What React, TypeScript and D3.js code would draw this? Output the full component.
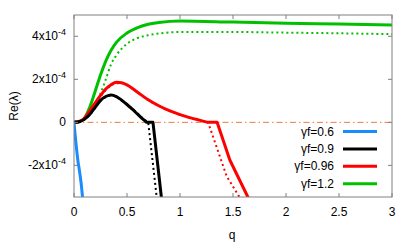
import {useEffect, useRef} from "react";
import * as d3 from "d3";

const SvgWidth = 415;
const SvgHeight = 249;

// plot box (gnuplot-like frame)
const left = 74;
const right = 392;
const top = 15;
const bottom = 197;

const xTicks = [0, 0.5, 1, 1.5, 2, 2.5, 3];
const yTicks = [-2e-4, 0, 2e-4, 4e-4];
const yTickLabels = [["-2x10", "-4"], ["0", ""], ["2x10", "-4"], ["4x10", "-4"]];

// values in units of 1e-4; smooth part, then the straight drop (tail)
const blueQ = [0, 0.01, 0.02, 0.03, 0.04, 0.05, 0.06, 0.07, 0.08, 0.09];
const blueV = [0, -0.55, -1.05, -1.5, -1.9, -2.2, -2.55, -2.95, -3.45, -3.9];

const blackQ = [0, 0.05, 0.1, 0.15, 0.2, 0.25, 0.3, 0.35, 0.4, 0.45, 0.5, 0.55, 0.6, 0.65, 0.685];
const blackV = [0, 0.03, 0.15, 0.38, 0.7, 1.02, 1.2, 1.27, 1.2, 1.03, 0.83, 0.61, 0.38, 0.15, 0];
const blackTailQ = [0.685, 0.745, 0.824, 0.84];
const blackTailV = [0, 0, -3.47, -4.2];
const blackDotQ = [0, 0.05, 0.1, 0.15, 0.2, 0.25, 0.3, 0.35, 0.4, 0.45, 0.5, 0.55, 0.6, 0.65, 0.7];
const blackDotV = [0, 0.03, 0.14, 0.36, 0.68, 1.0, 1.18, 1.25, 1.19, 1.03, 0.84, 0.63, 0.41, 0.18, 0];
const blackDotTailQ = [0.7, 0.78, 0.8];
const blackDotTailV = [0, -3.47, -4.3];

const redQ = [0, 0.05, 0.1, 0.15, 0.2, 0.25, 0.3, 0.35, 0.4, 0.45, 0.5, 0.6, 0.7, 0.8, 0.9, 1.0, 1.1, 1.2, 1.26];
const redV = [0, 0.04, 0.2, 0.55, 0.9, 1.25, 1.55, 1.75, 1.86, 1.84, 1.74, 1.4, 1.05, 0.77, 0.54, 0.36, 0.21, 0.08, 0];
const redTailQ = [1.26, 1.35, 1.47, 1.64, 1.7];
const redTailV = [0, 0, -1.75, -3.47, -4.1];
const redDotQ = [0, 0.05, 0.1, 0.15, 0.2, 0.25, 0.3, 0.35, 0.4, 0.45, 0.5, 0.6, 0.7, 0.8, 0.9, 1.0, 1.1, 1.2, 1.265];
const redDotV = [0, 0.04, 0.18, 0.5, 0.85, 1.2, 1.5, 1.71, 1.82, 1.82, 1.73, 1.39, 1.04, 0.76, 0.53, 0.35, 0.2, 0.07, 0];
const redDotTailQ = [1.265, 1.44, 1.56, 1.6];
const redDotTailV = [0, -2.5, -3.47, -3.9];

const greenQ = [0, 0.05, 0.1, 0.15, 0.2, 0.25, 0.3, 0.35, 0.4, 0.5, 0.6, 0.7, 0.8, 1.0, 1.5, 2.0, 2.5, 3.0];
const greenV = [0, 0.04, 0.2, 0.72, 1.45, 2.2, 2.85, 3.35, 3.72, 4.15, 4.4, 4.56, 4.64, 4.71, 4.66, 4.61, 4.57, 4.53];
const greenDotQ = [0, 0.05, 0.1, 0.15, 0.2, 0.25, 0.3, 0.35, 0.4, 0.5, 0.6, 0.7, 0.8, 1.0, 1.5, 2.0, 2.5, 3.0];
const greenDotV = [0, 0.04, 0.16, 0.5, 0.9, 1.35, 2.0, 2.7, 3.12, 3.65, 3.92, 4.05, 4.13, 4.2, 4.2, 4.17, 4.14, 4.1];

const blueColor = "#1a8cff";
const blackColor = "#000000";
const redColor = "#ff0000";
const greenColor = "#00c000";
const zeroColor = "#ef7a40";

const legendLabels = ["\u03b3f=0.6", "\u03b3f=0.9", "\u03b3f=0.96", "\u03b3f=1.2"];
const legendColors = [blueColor, blackColor, redColor, greenColor];

const fontFamily = "'Liberation Sans', Arial, sans-serif";

function App() {
    const svgRef = useRef(null);

    const xScale = d3.scaleLinear().domain([0, 3]).range([left, right]);
    const yScale = d3.scaleLinear().domain([-3.47e-4, 4.99e-4]).range([bottom, top]);

    useEffect(() => {
        const svg = d3.select(svgRef.current);
        svg.selectAll("*").remove();

        svg.append("defs").append("clipPath").attr("id", "plotclip")
            .append("rect")
            .attr("x", left).attr("y", top)
            .attr("width", right - left).attr("height", bottom - top);

        // zero line
        svg.append("line")
            .attr("x1", xScale(0)).attr("x2", xScale(3))
            .attr("y1", yScale(0)).attr("y2", yScale(0))
            .attr("stroke", zeroColor)
            .attr("stroke-width", 1)
            .attr("stroke-dasharray", "6,3,1.5,3");

        const smooth = d3.line()
            // @ts-ignore
            .x(d => xScale(d[0]))
            // @ts-ignore
            .y(d => yScale(d[1] * 1e-4))
            .curve(d3.curveMonotoneX);
        const straight = d3.line()
            // @ts-ignore
            .x(d => xScale(d[0]))
            // @ts-ignore
            .y(d => yScale(d[1] * 1e-4));

        const curves = [
            {q: greenDotQ, v: greenDotV, c: greenColor, dot: true},
            {q: redDotQ, v: redDotV, tq: redDotTailQ, tv: redDotTailV, c: redColor, dot: true},
            {q: blackDotQ, v: blackDotV, tq: blackDotTailQ, tv: blackDotTailV, c: blackColor, dot: true},
            {q: greenQ, v: greenV, c: greenColor, dot: false},
            {q: redQ, v: redV, tq: redTailQ, tv: redTailV, c: redColor, dot: false},
            {q: blackQ, v: blackV, tq: blackTailQ, tv: blackTailV, c: blackColor, dot: false},
            {q: blueQ, v: blueV, c: blueColor, dot: false},
        ];

        const g = svg.append("g").attr("clip-path", "url(#plotclip)");
        curves.forEach(cv => {
            const pts = cv.q.map((q, i) => [q, cv.v[i]]);
            // @ts-ignore
            let d = smooth(pts);
            if (cv.tq) {
                const tail = cv.tq.map((q, i) => [q, cv.tv[i]]);
                // @ts-ignore
                d += "L" + straight(tail).slice(1);
            }
            g.append("path")
                .attr("fill", "none")
                .attr("stroke", cv.c)
                .attr("stroke-width", cv.dot ? 2 : 3)
                .attr("stroke-linejoin", "round")
                .attr("stroke-dasharray", cv.dot ? "2,3" : null)
                .attr("d", d);
        });

        // frame
        svg.append("rect")
            .attr("x", left).attr("y", top)
            .attr("width", right - left).attr("height", bottom - top)
            .attr("fill", "none")
            .attr("stroke", "#808080")
            .attr("stroke-width", 1);

        const ticks = svg.append("g").attr("stroke", "#808080").attr("stroke-width", 1);
        xTicks.forEach(t => {
            ticks.append("line").attr("x1", xScale(t)).attr("x2", xScale(t)).attr("y1", bottom).attr("y2", bottom - 4);
            ticks.append("line").attr("x1", xScale(t)).attr("x2", xScale(t)).attr("y1", top).attr("y2", top + 4);
        });
        yTicks.forEach(t => {
            ticks.append("line").attr("x1", left).attr("x2", left + 4).attr("y1", yScale(t)).attr("y2", yScale(t));
            ticks.append("line").attr("x1", right).attr("x2", right - 4).attr("y1", yScale(t)).attr("y2", yScale(t));
        });

        xTicks.forEach(t => {
            svg.append("text")
                .attr("x", xScale(t)).attr("y", 216)
                .attr("text-anchor", "middle")
                .attr("font-family", fontFamily)
                .attr("font-size", 12)
                .text(String(t));
        });

        yTicks.forEach((t, i) => {
            const txt = svg.append("text")
                .attr("x", 66).attr("y", yScale(t) + 4)
                .attr("text-anchor", "end")
                .attr("font-family", fontFamily)
                .attr("font-size", 12);
            txt.append("tspan").text(yTickLabels[i][0]);
            if (yTickLabels[i][1]) {
                txt.append("tspan").attr("dy", -5).attr("font-size", 9).text(yTickLabels[i][1]);
            }
        });

        svg.append("text")
            .attr("transform", `translate(18, ${106}) rotate(-90)`)
            .attr("text-anchor", "middle")
            .attr("font-family", fontFamily)
            .attr("font-size", 12)
            .text("Re(\u03bb)");

        svg.append("text")
            .attr("x", 232).attr("y", 239)
            .attr("text-anchor", "middle")
            .attr("font-family", fontFamily)
            .attr("font-size", 12)
            .text("q");

        // legend
        legendLabels.forEach((lab, i) => {
            const y = 131.5 + i * 17.4;
            svg.append("text")
                .attr("x", 334).attr("y", y + 4)
                .attr("text-anchor", "end")
                .attr("font-family", fontFamily)
                .attr("font-size", 12)
                .text(lab);
            svg.append("line")
                .attr("x1", 343).attr("x2", 377)
                .attr("y1", y).attr("y2", y)
                .attr("stroke", legendColors[i])
                .attr("stroke-width", 3);
        });
    }, []);

    return (
        <svg
            ref={svgRef}
            width={SvgWidth}
            height={SvgHeight}
            style={{position: "absolute", left: 0, top: 0, background: "#fff"}}
        ></svg>
    );
}

export default App;
